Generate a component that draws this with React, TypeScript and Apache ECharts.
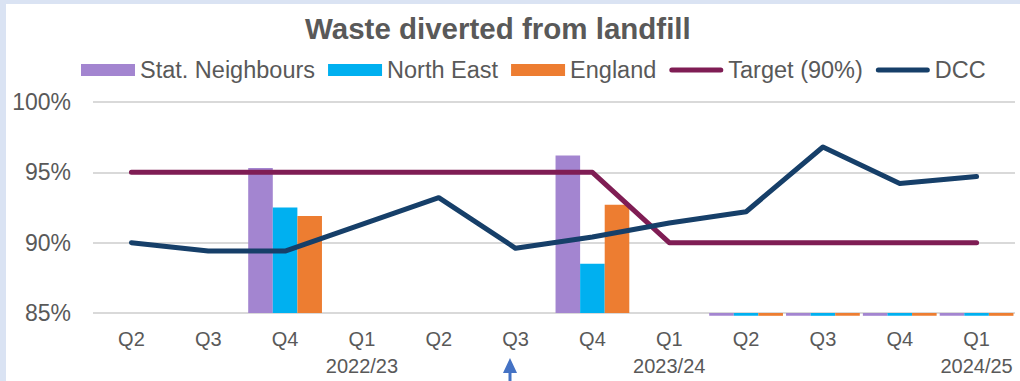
import React, { useEffect, useRef } from "react";
import * as echarts from "echarts";

const categories = ["Q2", "Q3", "Q4", "Q1\n2022/23", "Q2", "Q3", "Q4", "Q1\n2023/24", "Q2", "Q3", "Q4", "Q1\n2024/25"];
const statNeighbours = [null, null, 95.3, null, null, null, 96.2, null, 84.8, 84.8, 84.8, 84.8];
const northEast = [null, null, 92.5, null, null, null, 88.5, null, 84.8, 84.8, 84.8, 84.8];
const england = [null, null, 91.9, null, null, null, 92.7, null, 84.8, 84.8, 84.8, 84.8];
const target = [95, 95, 95, 95, 95, 95, 95, 90, 90, 90, 90, 90];
const dcc = [90.0, 89.4, 89.4, 91.3, 93.2, 89.6, 90.4, 91.4, 92.2, 96.8, 94.2, 94.7];
const yTicks = { min: 85, max: 100, interval: 5 };

const lineIcon = "path://M2.5,0 L51.5,0 A2.5,2.5 0 0 1 51.5,5 L2.5,5 A2.5,2.5 0 0 1 2.5,0 Z";

export default function App() {
  const ref = useRef<HTMLDivElement>(null);
  useEffect(() => {
    document.body.style.margin = "0";
    const chart = echarts.init(ref.current!, null, { renderer: "svg" });
    const textColor = "#595959";
    const barSeries = (name: string, data: (number | null)[], color: string) => ({
      name,
      type: "bar",
      data: data.map((v) => (v === null ? "-" : v)),
      itemStyle: { color },
      barGap: "0%",
      barCategoryGap: "4%",
      clip: false,
    });
    const last = dcc.length - 1;
    chart.setOption({
      animation: false,
      title: {
        text: "Waste diverted from landfill",
        left: 300,
        top: 8,
        textStyle: { fontFamily: "Liberation Sans", fontWeight: "bold", fontSize: 29.5, color: textColor },
      },
      legend: {
        left: 76,
        top: 53,
        itemWidth: 54,
        itemHeight: 12,
        itemGap: 13,
        textStyle: { fontFamily: "Liberation Sans", fontSize: 23.5, color: textColor },
        data: [
          { name: "Stat. Neighbours", icon: "rect" },
          { name: "North East", icon: "rect" },
          { name: "England", icon: "rect" },
          { name: "Target (90%)", icon: lineIcon, itemStyle: { color: "#7F1D54" } },
          { name: "DCC", icon: lineIcon, itemStyle: { color: "#163F69" } },
        ],
      },
      grid: { left: 93, right: 5, top: 102, bottom: 68 },
      xAxis: {
        type: "category",
        data: categories,
        axisLine: { show: false },
        axisTick: { show: false },
        axisLabel: {
          fontFamily: "Liberation Sans",
          fontSize: 20,
          color: textColor,
          lineHeight: 27,
          margin: 12,
          interval: 0,
        },
      },
      yAxis: {
        type: "value",
        min: yTicks.min,
        max: yTicks.max,
        interval: yTicks.interval,
        startValue: yTicks.min,
        axisLine: { show: false },
        axisTick: { show: false },
        splitLine: { lineStyle: { color: "#d9d9d9", width: 2 } },
        axisLabel: {
          formatter: "{value}%",
          fontFamily: "Liberation Sans",
          fontSize: 23,
          color: textColor,
          margin: 22,
        },
      },
      series: [
        barSeries("Stat. Neighbours", statNeighbours, "#A385D0"),
        barSeries("North East", northEast, "#00B0F0"),
        barSeries("England", england, "#ED7D31"),
        {
          name: "Target (90%)",
          type: "line",
          data: target,
          symbol: "none",
          lineStyle: { color: "#7F1D54", width: 5, cap: "round", join: "round" },
          itemStyle: { color: "#7F1D54" },
        },
        {
          name: "DCC",
          type: "line",
          data: dcc.map((v, i) =>
            i === last
              ? {
                  value: v,
                  label: {
                    show: true,
                    position: "top",
                    offset: [-9, -2],
                    formatter: (p: any) => p.value.toFixed(1) + "%",
                    fontFamily: "Liberation Sans",
                    fontSize: 22.5,
                    color: "#404040",
                  },
                }
              : v
          ),
          symbol: "none",
          lineStyle: { color: "#163F69", width: 5, cap: "round", join: "round" },
          itemStyle: { color: "#163F69" },
        },
      ],
      graphic: [
        {
          type: "line",
          shape: { x1: 510, y1: 370, x2: 510, y2: 381 },
          style: { stroke: "#4472C4", lineWidth: 3 },
        },
        {
          type: "polygon",
          shape: { points: [[503, 373], [517, 373], [510, 358]] },
          style: { fill: "#4472C4" },
        },
      ],
    });
    return () => chart.dispose();
  }, []);
  return (
    <div style={{ position: "relative", width: 1020, height: 381, background: "#dae3f3", overflow: "hidden" }}>
      <div style={{ position: "absolute", left: 6, top: 4, width: 1014, height: 377, background: "#ffffff" }} />
      <div ref={ref} style={{ position: "absolute", left: 0, top: 0, width: 1020, height: 381 }} />
    </div>
  );
}
